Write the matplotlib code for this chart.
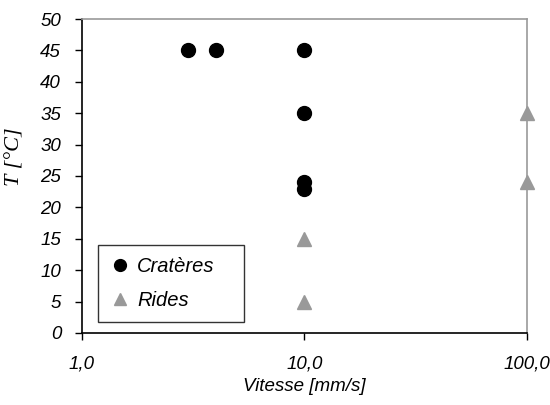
import matplotlib.pyplot as plt
from matplotlib.ticker import FixedLocator, FuncFormatter, NullLocator

# vitesse en mm/s, température en °C
crateres_v = [3, 4, 10, 10, 10, 10]
crateres_t = [45, 45, 45, 35, 24, 23]
rides_v = [10, 10, 100, 100]
rides_t = [15, 5, 35, 24]

plt.rcParams['font.family'] = ['Liberation Sans', 'DejaVu Sans']

fig = plt.figure(figsize=(5.5, 4.05), dpi=100)
ax = fig.add_axes([0.149, 0.178, 0.809, 0.775])

ax.plot(crateres_v, crateres_t, 'o', color='black', markersize=10, label='Cratères')
ax.plot(rides_v, rides_t, '^', color='#999999', markersize=10, label='Rides', clip_on=False)

ax.set_xscale('log')
ax.set_xlim(1, 100)
ax.set_ylim(0, 50)
ax.xaxis.set_major_locator(FixedLocator([1, 10, 100]))
ax.xaxis.set_minor_locator(NullLocator())
ax.xaxis.set_major_formatter(FuncFormatter(lambda v, p: f'{v:.1f}'.replace('.', ',')))
ax.set_yticks(range(0, 51, 5))

for lab in ax.get_xticklabels() + ax.get_yticklabels():
    lab.set_fontstyle('italic')
    lab.set_fontsize(13.5)

ax.tick_params(axis='both', direction='out', length=5, width=1, color='black')
ax.tick_params(axis='x', pad=11)
ax.tick_params(axis='y', pad=10)

ax.spines['left'].set_color('black')
ax.spines['bottom'].set_color('black')
ax.spines['top'].set_color('#999999')
ax.spines['right'].set_color('#999999')
for s in ax.spines.values():
    s.set_linewidth(1.2)

ax.set_xlabel('Vitesse [mm/s]', fontstyle='italic', fontsize=13.5, labelpad=4)
ax.set_ylabel('T [°C]', family=['Liberation Serif', 'DejaVu Serif'],
              fontstyle='italic', fontsize=16)
ax.yaxis.set_label_coords(-0.128, 0.56)

leg = ax.legend(loc='lower left', bbox_to_anchor=(0.036, 0.035, 0.328, 0.26),
                mode='expand', frameon=True, fancybox=False, edgecolor='black',
                prop={'style': 'italic', 'size': 14.5}, markerscale=0.85,
                handlelength=1.0, handletextpad=0.35, borderpad=0.6,
                labelspacing=0.75, borderaxespad=0)
leg.get_frame().set_linewidth(1.0)

fig.savefig('out.png', dpi=100)
